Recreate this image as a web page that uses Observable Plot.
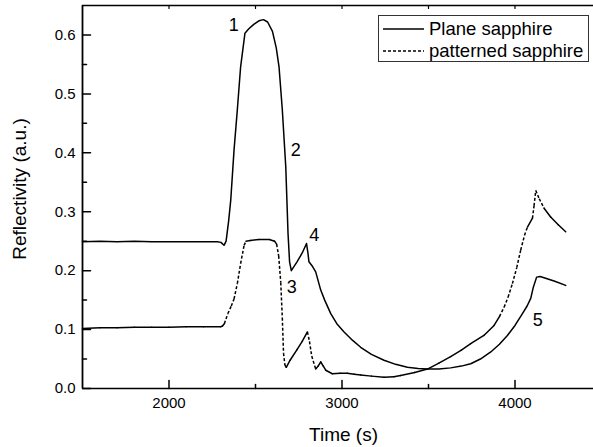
<!DOCTYPE html>
<html><head><meta charset="utf-8">
<script src="https://cdn.jsdelivr.net/npm/d3@7"></script>
<script src="https://cdn.jsdelivr.net/npm/@observablehq/plot@0.6"></script>
<style>
body{margin:0;background:#fff;overflow:hidden;}
#wrap{position:relative;width:593px;height:447px;font-family:"Liberation Sans",Arial,sans-serif;}
#legend{position:absolute;left:378px;top:15px;width:209px;height:45px;border:1.5px solid #333;background:#fff;}
.row{position:absolute;left:0;height:22px;display:flex;align-items:center;font-size:18.5px;color:#000;white-space:nowrap;}
.row svg{margin-left:4px;margin-right:5px;}
</style></head><body><div id="wrap"></div>
<script>
// Plane sapphire
const planeTime = [1500,1600,1700,1800,1900,2000,2100,2200,2280,2300,2318,2330,2345,2357,2376,2395,2414,2439,2460,2490,2520,2546,2570,2598,2620,2636,2655,2675,2688,2697,2707,2740,2770,2795,2803,2809,2830,2848,2877,2900,2935,2970,3012,3060,3108,3170,3243,3310,3378,3440,3494,3560,3628,3690,3744,3800,3860,3910,3956,4000,4043,4070,4091,4106,4125,4145,4168,4230,4293];
const planeRefl = [0.249,0.250,0.249,0.250,0.249,0.249,0.249,0.249,0.249,0.248,0.243,0.250,0.285,0.320,0.405,0.473,0.546,0.603,0.610,0.618,0.624,0.626,0.622,0.606,0.578,0.546,0.473,0.376,0.263,0.215,0.200,0.215,0.230,0.246,0.230,0.215,0.207,0.198,0.167,0.150,0.127,0.110,0.096,0.082,0.070,0.058,0.048,0.041,0.036,0.034,0.033,0.033,0.035,0.038,0.042,0.050,0.062,0.075,0.090,0.107,0.127,0.140,0.153,0.172,0.189,0.190,0.188,0.182,0.175];
// Patterned sapphire
const patTime = [1500,1600,1700,1800,1900,2000,2100,2200,2300,2309,2320,2340,2360,2376,2395,2414,2434,2445,2470,2520,2580,2610,2622,2634,2646,2655,2662,2670,2678,2700,2740,2770,2800,2812,2825,2848,2862,2877,2892,2906,2944,2990,3031,3070,3108,3170,3243,3300,3339,3420,3494,3560,3628,3690,3744,3820,3879,3910,3937,3960,3985,4010,4033,4055,4072,4101,4110,4120,4140,4168,4206,4250,4293];
const patRefl = [0.102,0.103,0.103,0.104,0.104,0.104,0.105,0.105,0.105,0.106,0.110,0.127,0.140,0.152,0.178,0.212,0.243,0.250,0.251,0.253,0.253,0.250,0.245,0.225,0.180,0.120,0.060,0.040,0.036,0.048,0.066,0.080,0.096,0.080,0.055,0.033,0.038,0.045,0.038,0.031,0.025,0.026,0.026,0.024,0.023,0.021,0.019,0.020,0.022,0.027,0.033,0.043,0.054,0.065,0.076,0.090,0.107,0.122,0.138,0.155,0.178,0.205,0.235,0.260,0.274,0.289,0.310,0.336,0.322,0.306,0.291,0.278,0.266];

const seriesNames = ["Plane sapphire", "patterned sapphire"];
const xTicksMajor = [2000, 3000, 4000];
const xTicksMinor = [2500, 3500];
const xTicksTop = [2000, 2500, 3000, 3500, 4000];
const yTicksMajor = [0, 0.1, 0.2, 0.3, 0.4, 0.5, 0.6];
const yTicksMinor = [0.05, 0.15, 0.25, 0.35, 0.45, 0.55];
const labelText = ["1", "2", "3", "4", "5"];
const labelTime = [2374, 2732, 2709, 2839, 4131];
const labelRefl = [0.617, 0.405, 0.172, 0.260, 0.116];
const xTitle = "Time (s)";
const yTitle = "Reflectivity (a.u.)";

const X = {domain: [1500, 4500], range: [82, 601]};
const Y = {domain: [0, 0.65], range: [388, 5]};
const xs = d3.scaleLinear(X.domain, X.range), ys = d3.scaleLinear(Y.domain, Y.range);

const plane = planeTime.map((t, i) => ({t, r: planeRefl[i]}));
const pat = patTime.map((t, i) => ({t, r: patRefl[i]}));
const segs = d3.pairs(pat).map(([a, b]) => ({
  x1: a.t, y1: a.r, x2: b.t, y2: b.r,
  steep: Math.abs((ys(b.r) - ys(a.r)) / (xs(b.t) - xs(a.t))) > 1.9
}));
const labels = labelText.map((s, i) => ({s, t: labelTime[i], r: labelRefl[i]}));
const tickShape = {draw(c, l) { c.moveTo(0, 0); c.lineTo(0, -l); }};
const font = '"Liberation Sans", Arial, sans-serif';

const chart = Plot.plot({
  width: 593, height: 447,
  marginLeft: 82, marginRight: 0, marginTop: 5, marginBottom: 59,
  x: {...X}, y: {...Y},
  style: {fontFamily: font, background: "white", color: "black"},
  marks: [
    Plot.line(plane, {x: "t", y: "r", stroke: "black", strokeWidth: 1.5}),
    Plot.link(segs.filter(d => !d.steep), {x1: "x1", y1: "y1", x2: "x2", y2: "y2", stroke: "black", strokeWidth: 1.5, strokeLinecap: "round"}),
    Plot.link(segs.filter(d => d.steep), {x1: "x1", y1: "y1", x2: "x2", y2: "y2", stroke: "black", strokeWidth: 1.5, strokeDasharray: "3,2"}),
    Plot.ruleY([0], {stroke: "black", strokeWidth: 1.6}),
    Plot.ruleY([0.65], {stroke: "black", strokeWidth: 1.6}),
    Plot.ruleX([1500], {stroke: "black", strokeWidth: 1.8}),
    Plot.vector(xTicksMajor, {x: d => d, y: () => 0, length: 8, anchor: "start", shape: tickShape, stroke: "black", strokeWidth: 1.5}),
    Plot.vector(xTicksMinor, {x: d => d, y: () => 0, length: 4, anchor: "start", shape: tickShape, stroke: "black", strokeWidth: 1.5}),
    Plot.vector(xTicksTop, {x: d => d, y: () => 0.65, length: 3, rotate: 180, anchor: "start", shape: tickShape, stroke: "black", strokeWidth: 1.2}),
    Plot.vector(yTicksMajor, {x: () => 1500, y: d => d, length: 8, rotate: 90, anchor: "start", shape: tickShape, stroke: "black", strokeWidth: 1.5}),
    Plot.vector(yTicksMinor, {x: () => 1500, y: d => d, length: 4, rotate: 90, anchor: "start", shape: tickShape, stroke: "black", strokeWidth: 1.5}),
    Plot.axisX({ticks: xTicksMajor, tickSize: 0, tickPadding: 9, fontSize: 15, label: null, tickFormat: d => String(d)}),
    Plot.axisY({ticks: yTicksMajor, tickSize: 0, tickPadding: 7, fontSize: 15, label: null, tickFormat: d3.format(".1f")}),
    Plot.text([xTitle], {text: d => d, frameAnchor: "bottom", textAnchor: "middle", lineAnchor: "middle", dx: 5.5, dy: 46.5, fontSize: 19}),
    Plot.text([yTitle], {text: d => d, frameAnchor: "left", textAnchor: "middle", lineAnchor: "middle", rotate: -90, dx: -63, dy: -8, fontSize: 19}),
    Plot.text(labels, {x: "t", y: "r", text: "s", fontSize: 18})
  ]
});
const wrap = document.getElementById("wrap");
wrap.appendChild(chart);

const legend = document.createElement("div");
legend.id = "legend";
seriesNames.forEach((name, i) => {
  const row = document.createElement("div");
  row.className = "row";
  row.style.top = (i === 0 ? 1.5 : 24) + "px";
  row.innerHTML = `<svg width="41" height="6"><line x1="0" y1="3" x2="41" y2="3" stroke="black" stroke-width="1.5" ${i === 1 ? 'stroke-dasharray="3,2"' : ''}/></svg><span>${name}</span>`;
  legend.appendChild(row);
});
wrap.appendChild(legend);
</script>
</body></html>
